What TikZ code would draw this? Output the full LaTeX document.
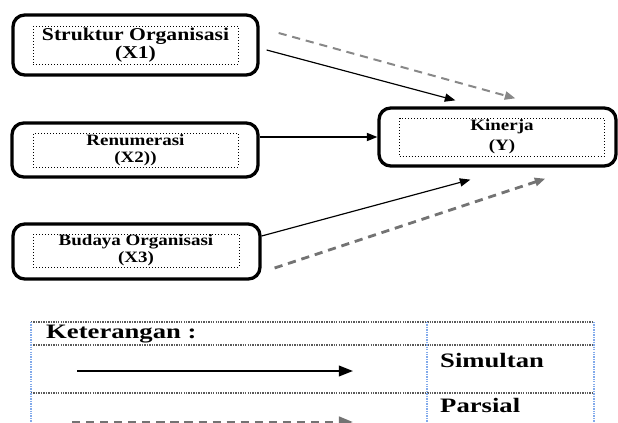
\documentclass[tikz,border=0pt]{standalone}
\usepackage{fontspec}
\setmainfont{Liberation Serif}
\newfontfamily\boxfont[FakeStretch=1.2]{Liberation Serif}
\newfontfamily\legfont[FakeStretch=1.3]{Liberation Serif}
\usepackage{xcolor}
\definecolor{dashgray}{RGB}{115,115,115}
\definecolor{gridblue}{RGB}{130,170,235}
\definecolor{gridgray}{RGB}{90,90,90}
\usetikzlibrary{arrows.meta,calc}

\begin{document}
\begin{tikzpicture}[
  x=0.03cm, y=-0.03cm,
  varbox/.style={draw, rounded corners=10pt, line width=2.8pt, inner sep=0pt},
  innerbox/.style={draw, dotted, line width=0.6pt, align=center, inner sep=0pt},
  simflow/.style={-{Triangle[length=9pt,width=7pt]}, line width=1pt},
  parflow/.style={-{Triangle[length=9pt,width=7pt]}, line width=2pt, color=dashgray, dash pattern=on 7pt off 5pt},
  rowline/.style={line width=1.2pt, color=gridgray, dash pattern=on 1.2pt off 0.9pt},
  colline/.style={line width=1.2pt, color=gridblue, dash pattern=on 1.2pt off 0.9pt},
  legtext/.style={anchor=base west, inner sep=0pt, font=\legfont\bfseries\fontsize{17.5}{20}\selectfont}
]
\useasboundingbox (0,0) rectangle (618,423);
\clip (0,0) rectangle (618,423);

% variables
\node[varbox, minimum width=7.35cm, minimum height=1.8cm] (x1) at (135.5,45) {};
\node[innerbox, minimum width=6.15cm, minimum height=1.14cm, font=\boxfont\bfseries\fontsize{15.4}{15}\selectfont] (x1in) at (135.5,45) {Struktur Organisasi\\(X1)};

\node[varbox, minimum width=7.38cm, minimum height=1.62cm] (x2) at (135,150) {};
\node[innerbox, minimum width=6.15cm, minimum height=1.02cm, font=\boxfont\bfseries\fontsize{13.5}{14.5}\selectfont] (x2in) at (135.5,150) {Renumerasi\\(X2))};

\node[varbox, minimum width=7.41cm, minimum height=1.65cm] (x3) at (136.5,251.5) {};
\node[innerbox, minimum width=6.18cm, minimum height=0.99cm, font=\boxfont\bfseries\fontsize{13.5}{14.5}\selectfont] (x3in) at (136,250.5) {Budaya Organisasi\\(X3)};

\node[varbox, minimum width=7.11cm, minimum height=1.74cm] (y) at (497.5,137) {};
\node[innerbox, minimum width=6.15cm, minimum height=1.14cm, font=\boxfont\bfseries\fontsize{13.5}{17}\selectfont] (yin) at (502,137) {Kinerja\\(Y)};

% pengaruh
\draw[simflow] ($(x1.east)+(7,5)$) -- ($(y.north west)+(78,-6)$);
\draw[parflow, line width=1.7pt, color=dashgray!85] ($(x1.east)+(19,-12)$) -- ($(y.north west)+(138,-8)$);
\draw[simflow] (x2.east |- y.west) -- (y.west);
\draw[simflow] ($(x3.east)+(0,-15.5)$) -- ($(y.south west)+(93,12)$);
\draw[parflow, line width=2.4pt] ($(x3.east)+(13,16.5)$) -- ($(y.south west)+(168,11)$);

% keterangan
\draw[rowline] (31,322) -- (594,322);
\draw[rowline] (31,345) -- (594,345);
\draw[rowline] (31,393) -- (594,393);
\draw[colline] (31,322) -- (31,430);
\draw[colline] (427,322) -- (427,430);
\draw[colline] (594,322) -- (594,430);

\node[legtext] (ket) at (46,338) {Keterangan :};
\node[legtext] (sim) at (440,367) {Simultan};
\node[legtext] (par) at (440,412) {Parsial};

\coordinate (simA) at (77,371);
\coordinate (simB) at (353,371);
\coordinate (parA) at (72,422);
\coordinate (parB) at (353,422);
\draw[simflow, line width=1.6pt, -{Triangle[length=12pt,width=9pt]}] (simA) -- (simB);
\draw[parflow, line width=2.4pt, -{Triangle[length=12pt,width=9pt]}] (parA) -- (parB);
\end{tikzpicture}
\end{document}
